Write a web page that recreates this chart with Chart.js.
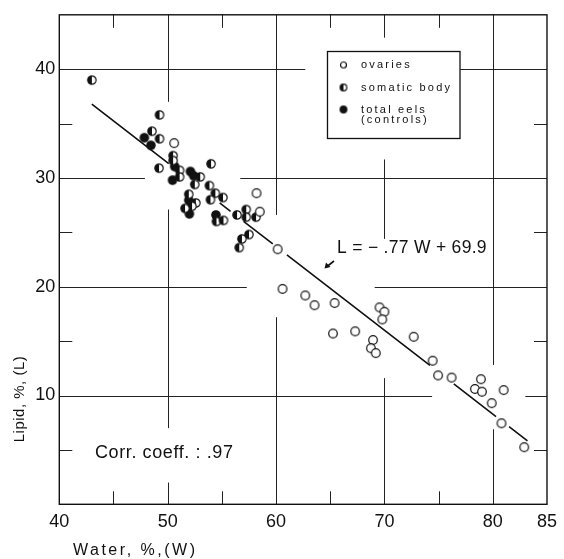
<!DOCTYPE html>
<html>
<head>
<meta charset="utf-8">
<script src="https://cdn.jsdelivr.net/npm/chart.js"></script>
<style>
  body { margin: 0; background: #fff; }
  #wrap { width: 564px; height: 559px; }
</style>
</head>
<body>
<div id="wrap"><canvas id="myChart" width="564" height="559"></canvas></div>
<script>
// ovaries (open circles)
const ovariesW = [50.6, 58.2, 58.5, 60.15, 60.6, 62.7, 63.55, 65.4, 65.25, 67.3, 69.55, 70.0, 69.8, 68.95, 68.75, 69.2, 72.7, 74.45, 74.95, 76.2, 78.35, 78.9, 79.0, 81.0, 79.9, 80.8, 82.9];
const ovariesL = [33.2, 28.6, 26.9, 23.45, 19.8, 19.2, 18.3, 18.5, 15.7, 15.9, 18.1, 17.7, 17.0, 15.1, 14.35, 13.9, 15.4, 13.2, 11.85, 11.65, 10.6, 11.5, 10.35, 10.5, 9.3, 7.45, 5.25];

// somatic body (half filled)
const somaticW = [43.0, 49.25, 48.55, 49.25, 50.5, 50.5, 49.2, 51.1, 51.1, 53.0, 52.5, 54.0, 53.85, 54.4, 55.1, 53.95, 51.95, 52.6, 52.25, 51.6, 54.5, 55.15, 56.4, 57.25, 57.25, 58.15, 57.5, 56.85, 56.6];
const somaticL = [39.0, 35.8, 34.3, 33.6, 32.05, 31.6, 30.9, 30.7, 30.1, 30.1, 29.4, 31.3, 29.3, 28.6, 28.2, 28.0, 28.5, 27.7, 27.4, 27.2, 26.0, 26.1, 26.6, 27.1, 26.4, 26.4, 24.8, 24.4, 23.6];

// total eels, controls (filled)
const totalW = [47.85, 48.45, 50.65, 50.45, 52.1, 52.4, 51.95, 52.0, 54.45];
const totalL = [33.7, 33.0, 31.05, 29.8, 30.6, 30.2, 27.95, 26.7, 26.6];

// regression L = -.77 W + 69.9, drawn in broken pieces as in the figure
const slope = -0.77;
const intercept = 69.9;
const regPieces = [[43.0, 50.1], [54.8, 55.8], [57.0, 59.7], [61.0, 74.2], [76.4, 80.3], [81.5, 83.2]];

const xLabels = [40, 50, 60, 70, 80, 85];
const yLabels = [10, 20, 30, 40];
const xMinor = [45, 55, 65, 75];
const yMinor = [5, 15, 25, 35];

// grid lines have gaps where the original leaves room for points and text
const vGrid = [
  { x: 50, segs: [[45, 37], [27.1, 7], [2, 0]] },
  { x: 60, segs: [[45, 26.6], [17.2, 0]] },
  { x: 70, segs: [[45, 42.9], [31.7, 24.4], [11.6, 0]] },
  { x: 80, segs: [[45, 12.8], [6.9, 0]] }
];
const hGrid = [
  { y: 40, segs: [[40, 62.7], [77, 85]] },
  { y: 30, segs: [[40, 47.9], [56.7, 85]] },
  { y: 20, segs: [[40, 57.3], [69.1, 85]] },
  { y: 10, segs: [[40, 74.4], [83, 85]] }
];

function toPoints(xs, ys) {
  return xs.map((x, i) => ({ x: x, y: ys[i] }));
}

function regressionData() {
  const pts = [];
  regPieces.forEach((p, i) => {
    if (i > 0) pts.push({ x: (regPieces[i - 1][1] + p[0]) / 2, y: null });
    pts.push({ x: p[0], y: slope * p[0] + intercept });
    pts.push({ x: p[1], y: slope * p[1] + intercept });
  });
  return pts;
}

function marker(kind, r) {
  const c = document.createElement('canvas');
  const s = Math.ceil(r * 2 + 3);
  c.width = s; c.height = s;
  const g = c.getContext('2d');
  const m = s / 2;
  g.beginPath();
  g.arc(m, m, r, 0, Math.PI * 2);
  g.fillStyle = kind === 'filled' ? '#111' : '#fff';
  g.fill();
  if (kind === 'half') {
    g.beginPath();
    g.arc(m, m, r, Math.PI / 2, Math.PI * 1.5);
    g.closePath();
    g.fillStyle = '#111';
    g.fill();
  }
  g.beginPath();
  g.arc(m, m, r, 0, Math.PI * 2);
  g.lineWidth = 1.2;
  g.strokeStyle = '#111';
  g.stroke();
  return c;
}

const mOpen = marker('open', 4.3);
const mHalf = marker('half', 4.2);
const mFull = marker('filled', 4.2);
const lOpen = marker('open', 3);
const lHalf = marker('half', 3.3);
const lFull = marker('filled', 3.3);

const decor = {
  id: 'decor',
  beforeDatasetsDraw(chart) {
    const ctx = chart.ctx;
    const x = chart.scales.x, y = chart.scales.y;
    const a = chart.chartArea;
    ctx.save();
    ctx.strokeStyle = '#222';
    ctx.lineWidth = 1;
    vGrid.forEach(g => {
      const px = Math.round(x.getPixelForValue(g.x)) + 0.5;
      g.segs.forEach(s => {
        ctx.beginPath();
        ctx.moveTo(px, y.getPixelForValue(s[0]));
        ctx.lineTo(px, y.getPixelForValue(s[1]));
        ctx.stroke();
      });
    });
    hGrid.forEach(g => {
      const py = Math.round(y.getPixelForValue(g.y)) + 0.5;
      g.segs.forEach(s => {
        ctx.beginPath();
        ctx.moveTo(x.getPixelForValue(s[0]), py);
        ctx.lineTo(x.getPixelForValue(s[1]), py);
        ctx.stroke();
      });
    });
    const t = 13;
    xMinor.forEach(v => {
      const px = Math.round(x.getPixelForValue(v)) + 0.5;
      ctx.beginPath();
      ctx.moveTo(px, a.bottom); ctx.lineTo(px, a.bottom - t);
      ctx.moveTo(px, a.top); ctx.lineTo(px, a.top + t);
      ctx.stroke();
    });
    yMinor.forEach(v => {
      const py = Math.round(y.getPixelForValue(v)) + 0.5;
      ctx.beginPath();
      ctx.moveTo(a.left, py); ctx.lineTo(a.left + t, py);
      ctx.moveTo(a.right, py); ctx.lineTo(a.right - t, py);
      ctx.stroke();
    });
    // frame
    ctx.lineWidth = 1.4;
    ctx.strokeStyle = '#111';
    ctx.strokeRect(a.left, a.top, a.right - a.left, a.bottom - a.top);
    ctx.restore();
  },
  afterDraw(chart) {
    const ctx = chart.ctx;
    ctx.save();
    ctx.fillStyle = '#111';
    ctx.strokeStyle = '#111';

    // legend box
    ctx.lineWidth = 1.3;
    ctx.strokeRect(327.5, 51.5, 132.5, 87);
    ctx.drawImage(lOpen, 343.5 - lOpen.width / 2, 65 - lOpen.height / 2);
    ctx.drawImage(lHalf, 343.5 - lHalf.width / 2, 87.5 - lHalf.height / 2);
    ctx.drawImage(lFull, 343.5 - lFull.width / 2, 109.5 - lFull.height / 2);
    ctx.font = '11px "Liberation Sans", Arial, sans-serif';
    ctx.letterSpacing = '2.2px';
    ctx.textBaseline = 'middle';
    ctx.textAlign = 'left';
    ctx.fillText('ovaries', 361, 65);
    ctx.fillText('somatic body', 361, 87.5);
    ctx.fillText('total eels', 361, 109.5);
    ctx.fillText('(controls)', 361, 120);

    // equation and arrow
    ctx.letterSpacing = '0.3px';
    ctx.font = '17.5px "Liberation Sans", Arial, sans-serif';
    ctx.fillText('L = \u2212 .77 W + 69.9', 337, 248);
    ctx.lineWidth = 1.6;
    ctx.beginPath();
    ctx.moveTo(334, 261);
    ctx.lineTo(327, 266.5);
    ctx.stroke();
    ctx.beginPath();
    ctx.moveTo(324.5, 268.5);
    ctx.lineTo(326, 262.5);
    ctx.lineTo(330.5, 267);
    ctx.closePath();
    ctx.fill();

    ctx.letterSpacing = '0.6px';
    ctx.font = '18px "Liberation Sans", Arial, sans-serif';
    ctx.fillText('Corr. coeff. : .97', 95, 453);

    // axis titles
    ctx.font = '16px "Liberation Sans", Arial, sans-serif';
    ctx.letterSpacing = '2.5px';
    ctx.fillText('Water, %,(W)', 73, 551);
    ctx.save();
    ctx.translate(20, 399);
    ctx.rotate(-Math.PI / 2);
    ctx.textAlign = 'center';
    ctx.font = '15px "Liberation Sans", Arial, sans-serif';
    ctx.letterSpacing = '0.5px';
    ctx.fillText('Lipid, %, (L)', 0, 0);
    ctx.restore();
    ctx.restore();
  }
};

const tickFont = { family: '"Liberation Sans", Arial, sans-serif', size: 18 };

const ctx = document.getElementById('myChart').getContext('2d');
const myChart = new Chart(ctx, {
  type: 'scatter',
  data: {
    datasets: [{
      label: 'regression',
      type: 'line',
      data: regressionData(),
      borderColor: '#111',
      borderWidth: 1.6,
      pointRadius: 0,
      spanGaps: false,
      fill: false
    }, {
      label: 'ovaries',
      data: toPoints(ovariesW, ovariesL),
      pointStyle: mOpen
    }, {
      label: 'somatic body',
      data: toPoints(somaticW, somaticL),
      pointStyle: mHalf
    }, {
      label: 'total eels (controls)',
      data: toPoints(totalW, totalL),
      pointStyle: mFull
    }]
  },
  options: {
    responsive: false,
    animation: false,
    layout: { padding: { left: 0, right: 9.7, top: 9, bottom: 0 } },
    plugins: { legend: { display: false }, tooltip: { enabled: false } },
    scales: {
      x: {
        type: 'linear',
        min: 40,
        max: 85,
        grid: { display: false, drawTicks: false },
        border: { display: false },
        afterBuildTicks: s => { s.ticks = xLabels.map(v => ({ value: v })); },
        afterFit: s => { s.height = 54.7; },
        ticks: { font: tickFont, color: '#111', padding: 7, maxRotation: 0, autoSkip: false }
      },
      y: {
        type: 'linear',
        min: 0,
        max: 45,
        grid: { display: false, drawTicks: false },
        border: { display: false },
        afterBuildTicks: s => { s.ticks = yLabels.map(v => ({ value: v })); },
        afterFit: s => { s.width = 59.3; },
        ticks: { font: tickFont, color: '#111', padding: 4, autoSkip: false }
      }
    }
  },
  plugins: [decor]
});
</script>
</body>
</html>
